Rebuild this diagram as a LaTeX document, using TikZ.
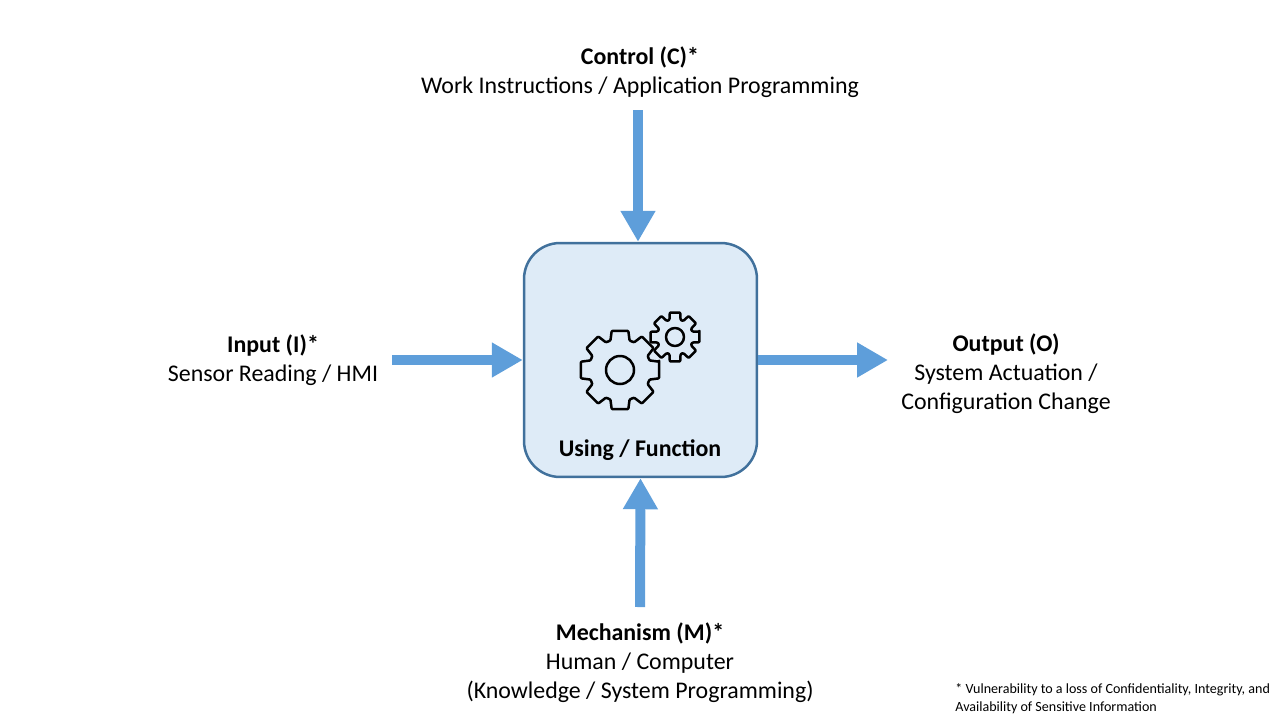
\documentclass[tikz,border=0pt]{standalone}
\usepackage{fontspec}
\setmainfont{Carlito}
\usetikzlibrary{arrows.meta}
\definecolor{flowblue}{RGB}{94,158,218}
\definecolor{boxfill}{RGB}{222,235,247}
\definecolor{boxline}{RGB}{65,113,156}
\tikzset{
  flow/.style={flowblue, line width=0.2cm, -{Triangle[width=0.66cm,length=0.62cm]}},
  label/.style={align=center, font=\fontsize{13.6}{16.5}\selectfont},
  gear/.style={line width=0.05cm, rounded corners=0.5pt, line join=round}
}
% gear: centre x, centre y, root radius, tip radius, hole radius
\newcommand{\drawgear}[5]{
  \draw[gear] ([shift={(#1,#2)}]-12:#4)
    \foreach \a in {0,45,...,315}{
      -- ([shift={(#1,#2)}]\a-12:#4) -- ([shift={(#1,#2)}]\a+12:#4)
      -- ([shift={(#1,#2)}]\a+18:#3) -- ([shift={(#1,#2)}]\a+27:#3)
    } -- cycle;
  \draw[gear] (#1,#2) circle[radius=#5];
}
\begin{document}
\begin{tikzpicture}[x=0.02cm, y=-0.02cm]
  \useasboundingbox (0,0) rectangle (1280,720);

  \node [draw=boxline, fill=boxfill, line width=0.05cm, rounded corners=0.72cm,
         minimum width=4.66cm, minimum height=4.68cm] (func) at (640.5,360) {};
  \node [font=\fontsize{13.6}{14}\bfseries\selectfont] (funclabel) at (640,450) {Using / Function};
  \drawgear{620}{370}{31}{40}{14}
  \drawgear{675}{337}{18}{25}{9}

  \node [label] (control) at (640,72) {\textbf{Control (C)*}\\Work Instructions / Application Programming};
  \node [label] (input) at (273,360) {\textbf{Input (I)*}\\Sensor Reading / HMI};
  \node [label] (output) at (1006,374) {\textbf{Output (O)}\\System Actuation /\\Configuration Change};
  \node [label] (mech) at (640,663) {\textbf{Mechanism (M)*}\\Human / Computer\\(Knowledge / System Programming)};
  \node [align=left, anchor=north west, font=\fontsize{8}{10.2}\selectfont, inner sep=0pt] (note) at (955,683)
    {* Vulnerability to a loss of Confidentiality, Integrity, and\\Availability of Sensitive Information};

  \coordinate (ctop) at (638,110);
  \coordinate (ileft) at (392,360);
  \coordinate (mbot) at (640,607);
  \coordinate (oright) at (888,360);

  \draw [flow] (ctop) -- (func.north -| ctop);
  \draw [flow] (ileft) -- (func.west);
  \draw [flow] (func.east) -- (oright);
  \draw [flow] (mbot) -- (func.south);
\end{tikzpicture}
\end{document}
